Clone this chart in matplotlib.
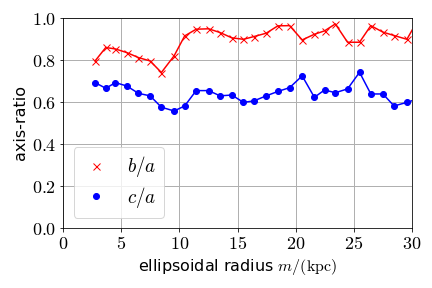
import numpy as np
import matplotlib.pyplot as plt

plt.rcParams['mathtext.fontset'] = 'cm'

# ellipsoidal radius (kpc)
m = [2.75, 3.67, 4.5, 5.47, 6.48, 7.48, 8.45, 9.55, 10.45, 11.44, 12.5, 13.5,
     14.5, 15.5, 16.4, 17.46, 18.46, 19.47, 20.55, 21.6, 22.47, 23.4, 24.45,
     25.48, 26.45, 27.49, 28.45, 29.55, 30.5]
# axis ratios
b_a = [0.795, 0.859, 0.852, 0.835, 0.811, 0.795, 0.74, 0.82, 0.914, 0.946,
       0.948, 0.93, 0.905, 0.898, 0.911, 0.927, 0.962, 0.963, 0.895, 0.922,
       0.938, 0.971, 0.884, 0.884, 0.963, 0.932, 0.916, 0.898, 0.99]
c_a = [0.692, 0.665, 0.692, 0.676, 0.641, 0.629, 0.575, 0.557, 0.581, 0.654,
       0.654, 0.629, 0.633, 0.598, 0.605, 0.629, 0.65, 0.668, 0.724, 0.622,
       0.657, 0.644, 0.662, 0.741, 0.638, 0.638, 0.581, 0.598, 0.615]

fig = plt.figure(figsize=(6, 4), dpi=72)
ax = fig.add_axes([0.146, 0.208, 0.808, 0.73])

ax.plot(m, b_a, 'r-', lw=1.5)
ax.plot(m, b_a, 'rx', ms=7, label='$b/a$')
ax.plot(m, c_a, 'b-', lw=1.5)
ax.plot(m, c_a, 'bo', ms=6, label='$c/a$')

ax.set_xlim(0, 30)
ax.set_ylim(0, 1)
ax.set_xticks([0, 5, 10, 15, 20, 25, 30])
ax.set_xticklabels(['$%d$' % v for v in [0, 5, 10, 15, 20, 25, 30]])
ax.set_yticks([0, 0.2, 0.4, 0.6, 0.8, 1.0])
ax.set_yticklabels(['$%.1f$' % v for v in [0, 0.2, 0.4, 0.6, 0.8, 1.0]])
ax.tick_params(labelsize=18)
ax.grid(True, color='#b0b0b0', lw=1)
ax.set_axisbelow(True)
ax.set_xlabel(r'ellipsoidal radius $m/(\mathrm{kpc})$', fontsize=16)
ax.set_ylabel('axis-ratio', fontsize=16)
ax.legend(loc='lower left', fontsize=19, handlelength=1.6, labelspacing=0.3,
          borderaxespad=0.55)

plt.savefig('out.png', dpi=72)
